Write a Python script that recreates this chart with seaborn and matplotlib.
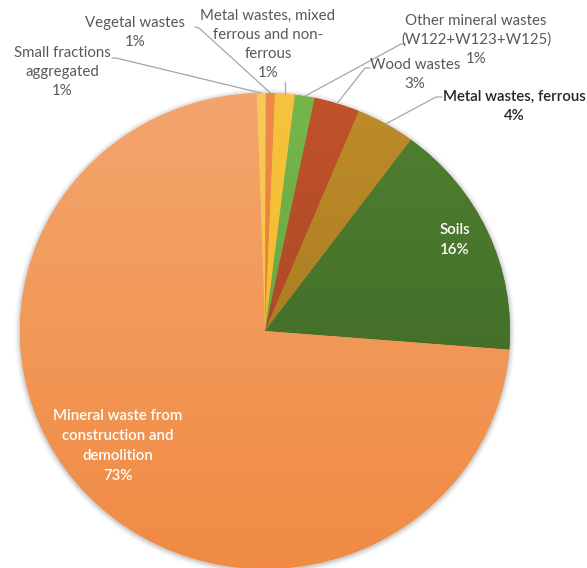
import colorsys
import numpy as np
import matplotlib
matplotlib.use("Agg")
import matplotlib.pyplot as plt
from matplotlib.lines import Line2D
from matplotlib.colors import to_rgb
from matplotlib.patches import Ellipse
import seaborn as sns

# Waste composition (share of total, %), clockwise from the top
categories = [
    "Small fractions\naggregated",
    "Vegetal wastes",
    "Metal wastes, mixed\nferrous and non-\nferrous",
    "Other mineral wastes\n(W122+W123+W125)",
    "Wood wastes",
    "Metal wastes, ferrous",
    "Soils",
    "Mineral waste from\nconstruction and\ndemolition",
]
shares = [0.6, 0.6, 1.3, 1.3, 3.0, 3.9, 16.1, 73.2]
colors = ["#F7C247", "#EC7E35", "#F5BC2B", "#6AA844",
          "#AE4A26", "#AC7E24", "#45712A", "#F29858"]

sns.set_theme(style="white")
plt.rcParams["font.family"] = ["Lato", "DejaVu Sans"]

W, H = 587, 568
fig = plt.figure(figsize=(W / 100, H / 100), dpi=100)
fig.patch.set_facecolor("white")

# pie area in pixel units (slightly wider than tall)
cx, cy, rx, ry = 265, 331, 245, 238
pad = 1.05
ax = fig.add_axes([(cx - rx * pad) / W, 1 - (cy + ry * pad) / H,
                   2 * rx * pad / W, 2 * ry * pad / H])

start = 91.97
wedges, _ = ax.pie(shares, colors=colors, startangle=start, counterclock=False,
                   radius=1.0, wedgeprops=dict(linewidth=0))
ax.set_xlim(-pad, pad)
ax.set_ylim(-pad, pad)
ax.set_aspect("auto")
ax.axis("off")

# soft shadow under the pie
for k, a in enumerate(np.linspace(0.05, 0.012, 6)):
    s = 1.0 + 0.004 * (k + 1)
    ax.add_patch(Ellipse((0.0, -0.004), 2 * s, 2 * s, facecolor="black",
                         edgecolor="none", alpha=a, zorder=0))


def shade(c, dl):
    h, l, s = colorsys.rgb_to_hls(*to_rgb(c))
    return np.array(colorsys.hls_to_rgb(h, min(1, max(0, l + dl)), s))


# vertical shading of each wedge: lighter at the top, deeper at the bottom
ramp = np.linspace(1, 0, 256)[:, None, None]
for w, c in zip(wedges, colors):
    light, dark = shade(c, 0.045), shade(c, -0.045)
    img = light[None, None, :] * ramp + dark[None, None, :] * (1 - ramp)
    img = np.repeat(img, 2, axis=1)
    im = ax.imshow(img, extent=(-1, 1, -1, 1), origin="upper",
                   aspect="auto", zorder=2, interpolation="bilinear")
    im.set_clip_path(w)
    w.set_zorder(1)


def fx(x):
    return x / W


def fy(y):
    return 1 - y / H


def label_text(i):
    pct = max(1, int(round(shares[i])))
    return f"{categories[i]}\n{pct}%"


grey = "#595959"
line_col = "#A6A6A6"
fs = 10.8

# outside labels: (index, text centre x, top-line y, text-side line start, elbow)
outside = [
    (0, 62, 53, (112, 58), (116, 58)),
    (1, 135, 23, (195, 27), (199, 28)),
    (2, 268, 16, None, None),
    (3, 476, 21, (405, 44), (401, 44)),
    (4, 415, 65, (370, 68), (365, 68)),
    (5, 514, 97, (442, 97), (436, 97)),
]

# angle of each wedge's middle, for leader line ends
bounds = start - np.cumsum([0] + shares) / 100 * 360
mids = (bounds[:-1] + bounds[1:]) / 2

for i, tx, ty, p0, p1 in outside:
    lines = label_text(i).split("\n")
    bold = (i == 5)
    for k, s in enumerate(lines):
        ax.text(fx(tx), fy(ty + k * 19), s, ha="center", va="center",
                fontsize=fs,
                color="#262626" if bold else grey,
                fontweight="semibold" if bold else "normal",
                transform=fig.transFigure, zorder=10, clip_on=False)
    th = np.deg2rad(mids[i])
    ex = cx + rx * np.cos(th)
    ey = cy - ry * np.sin(th)
    if p0 is None:
        pts = [(ex, ty + 3 * 19 + 9), (ex, ey)]
    else:
        pts = [p0, p1, (ex, ey)]
    xs = [fx(p[0]) for p in pts]
    ys = [fy(p[1]) for p in pts]
    ax.add_artist(Line2D(xs, ys, color=line_col, lw=0.9,
                         transform=fig.transFigure, zorder=9, clip_on=False))

# inside labels
inside = [(6, 455, 230), (7, 118, 416)]
for i, tx, ty in inside:
    for k, s in enumerate(label_text(i).split("\n")):
        ax.text(fx(tx), fy(ty + k * 20), s, ha="center", va="center",
                fontsize=fs, color="white", fontweight="semibold",
                transform=fig.transFigure, zorder=10, clip_on=False)

fig.savefig("out.png", dpi=100, facecolor="white")
